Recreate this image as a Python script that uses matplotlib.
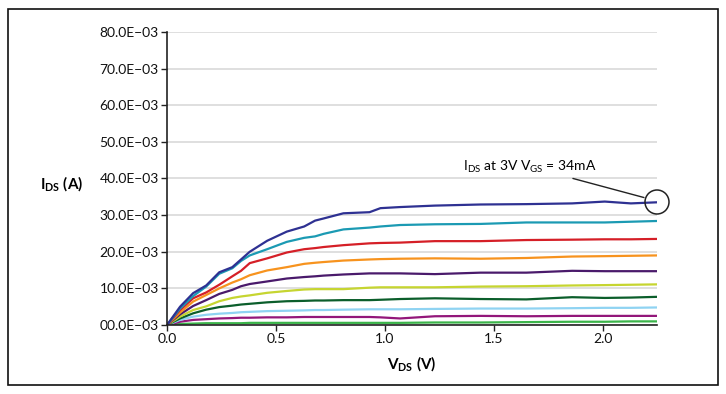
import numpy as np
import matplotlib.pyplot as plt
from matplotlib.patches import Rectangle, Ellipse

plt.rcParams['font.family'] = ['Lato', 'DejaVu Sans']
plt.rcParams['mathtext.fontset'] = 'custom'
plt.rcParams['mathtext.rm'] = 'Lato'
plt.rcParams['mathtext.bf'] = 'Lato:bold'

# drain-source voltage (V), shared by all curves
vds = [0, 0.06, 0.12, 0.18, 0.24, 0.30, 0.34, 0.38, 0.46, 0.55, 0.63, 0.68,
       0.72, 0.81, 0.93, 0.98, 1.07, 1.23, 1.44, 1.65, 1.86, 2.01, 2.13, 2.25]

# drain current (mA), one list per gate voltage, top to bottom
ids_blue = [0, 5.0, 8.7, 10.8, 14.4, 15.8, 17.9, 20.0, 23.0, 25.5, 26.9, 28.5,
            29.1, 30.5, 30.8, 31.9, 32.2, 32.6, 32.9, 33.0, 33.2, 33.7, 33.2, 33.5]
ids_teal = [0, 4.5, 7.9, 10.5, 14.0, 15.5, 17.5, 19.0, 20.7, 22.7, 23.8, 24.2,
            24.9, 26.1, 26.6, 26.9, 27.3, 27.5, 27.6, 28.0, 28.0, 28.0, 28.2, 28.4]
ids_red = [0, 4.1, 7.3, 8.9, 11.0, 13.3, 14.8, 16.9, 18.2, 19.8, 20.7, 21.0,
           21.3, 21.8, 22.3, 22.4, 22.5, 22.9, 22.9, 23.2, 23.3, 23.4, 23.4, 23.5]
ids_orange = [0, 3.4, 6.4, 8.2, 10.0, 11.6, 12.5, 13.6, 14.9, 15.8, 16.7, 17.0,
              17.2, 17.6, 17.9, 18.0, 18.1, 18.2, 18.1, 18.3, 18.7, 18.8, 18.9, 19.0]
ids_purple = [0, 2.9, 5.2, 6.8, 8.5, 9.6, 10.6, 11.2, 11.9, 12.7, 13.1, 13.3,
              13.5, 13.8, 14.1, 14.1, 14.1, 13.9, 14.3, 14.3, 14.8, 14.7, 14.7, 14.7]
ids_lime = [0, 2.3, 4.1, 5.1, 6.5, 7.4, 7.8, 8.1, 8.8, 9.3, 9.7, 9.8,
            9.8, 9.8, 10.2, 10.3, 10.3, 10.3, 10.5, 10.6, 10.8, 10.9, 11.0, 11.1]
ids_dkgreen = [0, 1.8, 3.2, 4.2, 4.9, 5.3, 5.6, 5.8, 6.2, 6.5, 6.6, 6.7,
               6.7, 6.8, 6.8, 6.9, 7.1, 7.3, 7.1, 7.0, 7.6, 7.4, 7.5, 7.7]
ids_ltblue = [0, 1.4, 2.3, 2.8, 3.1, 3.3, 3.5, 3.6, 3.8, 3.9, 4.0, 4.1,
              4.1, 4.2, 4.3, 4.3, 4.3, 4.4, 4.5, 4.5, 4.6, 4.7, 4.7, 4.8]
ids_magenta = [0, 0.9, 1.4, 1.6, 1.8, 1.9, 2.0, 2.0, 2.1, 2.1, 2.2, 2.2,
               2.2, 2.2, 2.2, 2.1, 1.8, 2.4, 2.5, 2.4, 2.5, 2.5, 2.5, 2.5]
ids_green = [0, 0.3, 0.4, 0.5, 0.5, 0.5, 0.5, 0.6, 0.6, 0.6, 0.6, 0.6,
             0.6, 0.6, 0.6, 0.6, 0.6, 0.7, 0.7, 0.8, 0.9, 0.9, 1.0, 1.0]

curves = [ids_green, ids_magenta, ids_ltblue, ids_dkgreen, ids_lime,
          ids_purple, ids_orange, ids_red, ids_teal, ids_blue]
colors = ['#3bb44a', '#93177a', '#8fd3f2', '#0b5e2b', '#c6d530',
          '#4a1a6b', '#f7931e', '#d51f27', '#1b9ab3', '#2e3192']

y_ticks = [0, 10, 20, 30, 40, 50, 60, 70, 80]
y_labels = ['%02d.0E\u221203' % t for t in y_ticks]
x_ticks = [0.0, 0.5, 1.0, 1.5, 2.0]

fig = plt.figure(figsize=(7.26, 3.94), dpi=100)
ax = fig.add_axes([0.230, 0.175, 0.675, 0.744])

for ids, c in zip(curves, colors):
    ax.plot(vds, np.array(ids) * 1e-3, color=c, lw=1.6, solid_capstyle='round')

ax.set_xlim(0, 2.25)
ax.set_ylim(0, 0.08)
ax.set_yticks(np.array(y_ticks) * 1e-3)
ax.set_yticklabels(y_labels)
ax.set_xticks(x_ticks)
ax.set_xticklabels(['%.1f' % t for t in x_ticks])
ax.grid(axis='y', color='#dcdcdc', lw=1.3)
ax.set_axisbelow(True)
for s in ['top', 'right']:
    ax.spines[s].set_visible(False)
for s in ['left', 'bottom']:
    ax.spines[s].set_color('#222222')
    ax.spines[s].set_linewidth(1.2)
ax.tick_params(axis='both', length=4, width=1, color='#222222', labelsize=10,
               labelcolor='#111111', pad=2)

ax.set_xlabel(r'$\mathbf{V_{DS}}$ $\mathbf{(V)}$', fontsize=11, labelpad=6)
fig.text(0.085, 0.535, r'$\mathbf{I_{DS}}$ $\mathbf{(A)}$', fontsize=11,
         ha='center', va='center')

# annotation for the top curve
ax.annotate(r'I$_{\mathrm{DS}}$ at 3V V$_{\mathrm{GS}}$ = 34mA',
            xy=(2.19, 0.0348), xytext=(1.97, 0.0432),
            fontsize=10, ha='right', va='center',
            arrowprops=dict(arrowstyle='-', color='#222222', lw=1,
                            shrinkA=2, shrinkB=0))
circ = Ellipse((657 / 726, 1 - 202 / 394), 24 / 726, 24 / 394,
               transform=fig.transFigure, fill=False, ec='#222222', lw=1.1)
fig.patches.append(circ)

# outer frame
fig.patches.append(Rectangle((8 / 726, 1 - 385 / 394), 710 / 726, 376 / 394,
                             transform=fig.transFigure, fill=False,
                             ec='#111111', lw=1.2))

plt.savefig('out.png', dpi=100)
